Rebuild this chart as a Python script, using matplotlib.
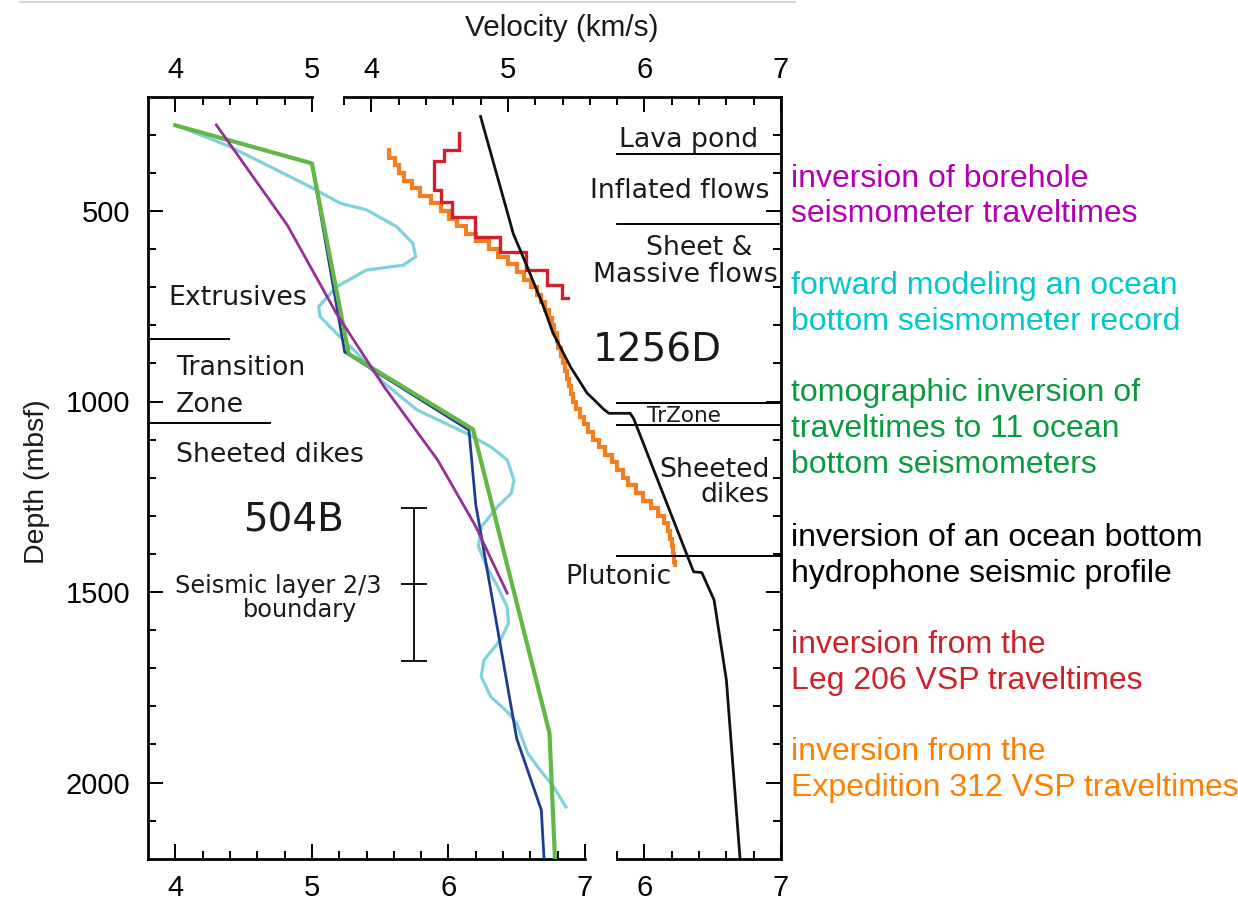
import matplotlib
matplotlib.use("Agg")
import matplotlib.pyplot as plt
from matplotlib.lines import Line2D
from matplotlib.ticker import FixedLocator

plt.rcParams['font.family'] = ['Liberation Sans', 'DejaVu Sans']

# ---------------- Site 504B models (velocity km/s, depth mbsf) ----------------
tomo_v = [4.00, 5.00, 5.27, 6.18, 6.74, 6.78]
tomo_d = [275, 375, 875, 1073, 1870, 2200]

obs_fit_v = [4.00, 5.00, 5.24, 6.15, 6.20, 6.50, 6.68, 6.70]
obs_fit_d = [275, 375, 870, 1075, 1270, 1885, 2072, 2200]

borehole_v = [4.30, 4.82, 5.18, 5.53, 5.92, 6.20, 6.43]
borehole_d = [274, 537, 769, 962, 1153, 1328, 1503]

fwd_v = [4.00, 4.40, 4.99, 5.21, 5.40, 5.62, 5.74, 5.76, 5.67, 5.40, 5.18, 5.05,
         5.06, 5.18, 5.33, 5.53, 5.77, 6.14, 6.31, 6.43, 6.48, 6.46, 6.36, 6.24,
         6.22, 6.28, 6.36, 6.43, 6.44, 6.38, 6.26, 6.24, 6.31, 6.43, 6.50, 6.58,
         6.67, 6.77, 6.86]
fwd_d = [274, 331, 437, 480, 497, 541, 585, 620, 642, 655, 699, 751,
         777, 821, 873, 952, 1022, 1085, 1119, 1153, 1206, 1241, 1276, 1329,
         1381, 1434, 1486, 1539, 1582, 1626, 1679, 1722, 1775, 1814, 1845, 1923,
         1967, 2011, 2064]

# seismic layer 2/3 boundary depth and its uncertainty
l23_v = 5.745
l23_d = 1480
l23_err = 200

# lithology boundaries at 504B: (depth, right end of line in km/s)
b504_depths = [836, 1056]
b504_ends = [4.39, 4.69]

# ---------------- Site 1256D models ----------------
ocean_v = [4.80, 4.97, 5.04, 5.14, 5.26, 5.33, 5.46, 5.58, 5.63, 5.70, 5.74, 5.895,
           5.92, 6.36, 6.42, 6.51, 6.60, 6.70]
ocean_d = [252, 470, 560, 645, 750, 820, 910, 978, 995, 1020, 1031, 1031,
           1044, 1447, 1449, 1521, 1731, 2200]

leg206_bounds = [296, 340, 370, 445, 476, 515, 567, 607, 655, 694, 729]
leg206_v = [4.64, 4.53, 4.46, 4.51, 4.59, 4.76, 4.94, 5.13, 5.285, 5.395]
leg206_tail = 5.44

exp312_bounds = [340, 360, 380, 400, 420, 440, 460, 480, 500, 520, 540, 560,
                 580, 600, 620, 640, 660, 680, 700, 720, 740, 760, 780, 800,
                 820, 840, 860, 880, 900, 920, 940, 960, 980, 1000, 1020, 1040,
                 1060, 1080, 1100, 1120, 1140, 1160, 1180, 1200, 1220, 1240, 1260,
                 1280, 1300, 1320, 1340, 1360, 1380, 1400, 1420, 1430]
exp312_v = [4.13, 4.17, 4.20, 4.24, 4.30, 4.36, 4.44, 4.51, 4.57, 4.63, 4.69, 4.77,
            4.86, 4.93, 5.00, 5.07, 5.12, 5.17, 5.21, 5.24, 5.27, 5.30, 5.32, 5.34,
            5.36, 5.37, 5.39, 5.40, 5.42, 5.43, 5.45, 5.46, 5.48, 5.50, 5.53, 5.56,
            5.59, 5.62, 5.67, 5.71, 5.76, 5.80, 5.84, 5.88, 5.94, 5.99, 6.05, 6.10,
            6.14, 6.17, 6.19, 6.20, 6.21, 6.22, 6.225]

# lithology boundaries at 1256D
b1256_depths = [350, 534, 1004, 1061, 1406]

legend_lines = [
    (["inversion of borehole", "seismometer traveltimes"], "#b400b4"),
    (["forward modeling an ocean", "bottom seismometer record"], "#00c8cc"),
    (["tomographic inversion of", "traveltimes to 11 ocean", "bottom seismometers"], "#0c9a40"),
    (["inversion of an ocean bottom", "hydrophone seismic profile"], "#000000"),
    (["inversion from the", "Leg 206 VSP traveltimes"], "#cc2229"),
    (["inversion from the", "Expedition 312 VSP traveltimes"], "#ff8000"),
]
legend_baselines = [[187, 222], [294, 330], [401, 437, 473], [546, 582], [653, 689], [760, 796]]


def stairs(bounds, vels, tail=None):
    xs, ys = [], []
    for i, v in enumerate(vels):
        xs += [v, v]
        ys += [bounds[i], bounds[i + 1]]
    if tail is not None:
        xs.append(tail)
        ys.append(bounds[-1])
    return xs, ys


W, H = 1238, 900
fig = plt.figure(figsize=(W / 100, H / 100), dpi=100)


def rect(x0, x1, y0, y1):
    return [x0 / W, 1 - y1 / H, (x1 - x0) / W, (y1 - y0) / H]


TOP, BOT = 96.7, 858.7
ax1 = fig.add_axes(rect(148, 585, TOP, BOT))
ax2 = fig.add_axes(rect(344, 781, TOP, BOT))
ax2.set_facecolor('none')

for ax in (ax1, ax2):
    ax.set_xlim(3.8, 7.0)
    ax.set_ylim(2200, 200)

SPW = 2.0
TICK = dict(direction='in', color='black', width=1.4, labelsize=21)
MAJ = dict(length=11, pad=9)
MINL = dict(length=5.5)

ymajor = [500, 1000, 1500, 2000]
yminor = [300, 400, 600, 700, 800, 900, 1100, 1200, 1300, 1400, 1600, 1700, 1800, 1900, 2100]

# ---- left panel (504B) frame ----
for s in ('top', 'right'):
    ax1.spines[s].set_visible(False)
for s in ('left', 'bottom'):
    ax1.spines[s].set_linewidth(SPW)
ax1.xaxis.set_ticks_position('bottom')
ax1.xaxis.set_major_locator(FixedLocator([4, 5, 6, 7]))
ax1.xaxis.set_minor_locator(FixedLocator([4.2, 4.4, 4.6, 4.8, 5.2, 5.4, 5.6, 5.8,
                                          6.2, 6.4, 6.6, 6.8]))
ax1.set_xticklabels(['4', '5', '6', '7'])
ax1.yaxis.set_ticks_position('left')
ax1.yaxis.set_major_locator(FixedLocator(ymajor))
ax1.yaxis.set_minor_locator(FixedLocator(yminor))
ax1.set_yticklabels([str(v) for v in ymajor])
ax1.tick_params(which='both', **TICK)
ax1.tick_params(which='major', **MAJ)
ax1.tick_params(which='minor', **MINL)
ax1.tick_params(axis='y', which='major', pad=13)
ax1.tick_params(axis='x', which='major', pad=11)

sec1 = ax1.secondary_xaxis('top')
sec1.xaxis.set_major_locator(FixedLocator([4, 5]))
sec1.xaxis.set_minor_locator(FixedLocator([4.2, 4.4, 4.6, 4.8]))
sec1.set_xticklabels(['4', '5'])
sec1.spines['top'].set_bounds(3.8, 5.0)
sec1.spines['top'].set_linewidth(SPW)
sec1.tick_params(which='both', **TICK)
sec1.tick_params(which='major', **MAJ)
sec1.tick_params(which='minor', **MINL)

# ---- right panel (1256D) frame ----
for s in ('left', 'bottom'):
    ax2.spines[s].set_visible(False)
for s in ('top', 'right'):
    ax2.spines[s].set_linewidth(SPW)
ax2.xaxis.set_ticks_position('top')
ax2.xaxis.set_label_position('top')
ax2.xaxis.set_major_locator(FixedLocator([4, 5, 6, 7]))
ax2.xaxis.set_minor_locator(FixedLocator([3.8, 4.2, 4.4, 4.6, 4.8, 5.2, 5.4, 5.6, 5.8,
                                          6.2, 6.4, 6.6, 6.8]))
ax2.set_xticklabels(['4', '5', '6', '7'])
ax2.yaxis.set_ticks_position('right')
ax2.yaxis.set_major_locator(FixedLocator(ymajor))
ax2.yaxis.set_minor_locator(FixedLocator(yminor))
ax2.tick_params(which='both', **TICK)
ax2.tick_params(which='major', **MAJ)
ax2.tick_params(which='minor', **MINL)
ax2.tick_params(axis='y', labelright=False, labelleft=False)

sec2 = ax2.secondary_xaxis('bottom')
sec2.xaxis.set_major_locator(FixedLocator([6, 7]))
sec2.xaxis.set_minor_locator(FixedLocator([5.8, 6.2, 6.4, 6.6, 6.8]))
sec2.set_xticklabels(['6', '7'])
sec2.spines['bottom'].set_bounds(5.8, 7.0)
sec2.spines['bottom'].set_linewidth(SPW)
sec2.tick_params(which='both', **TICK)
sec2.tick_params(which='major', length=11, pad=11)
sec2.tick_params(which='minor', **MINL)

# ---- 504B curves ----
ax1.plot(fwd_v, fwd_d, color='#80d2da', lw=2.3, zorder=2)
ax1.plot(obs_fit_v, obs_fit_d, color='#1e3c92', lw=2.0, zorder=3)
ax1.plot(tomo_v, tomo_d, color='#62b846', lw=3.0, zorder=4)
ax1.plot(borehole_v, borehole_d, color='#962f96', lw=2.0, zorder=5)

for d, xe in zip(b504_depths, b504_ends):
    ax1.plot([3.8, xe], [d, d], color='black', lw=1.4)

ax1.errorbar([l23_v], [l23_d], yerr=[l23_err], color='black', lw=1.3,
             capsize=9.5, capthick=1.3, marker='_', markersize=19, mew=1.3)

LBL = dict(family=['DejaVu Sans'], fontsize=19.3, color='#1a1a1a', va='baseline')
ax1.text(3.949, 747, 'Extrusives', ha='left', **LBL)
ax1.text(4.005, 930, 'Transition', ha='left', **LBL)
ax1.text(4.005, 1027, 'Zone', ha='left', **LBL)
ax1.text(4.005, 1158, 'Sheeted dikes', ha='left', **LBL)
ax1.text(4.498, 1342, '504B', ha='left', family=['DejaVu Sans'], fontsize=28,
         color='#1a1a1a', va='baseline')
ax1.text(3.998, 1503, 'Seismic layer 2/3', ha='left', family=['DejaVu Sans'],
         fontsize=17.3, color='#1a1a1a', va='baseline')
ax1.text(4.498, 1565, 'boundary', ha='left', family=['DejaVu Sans'],
         fontsize=17.3, color='#1a1a1a', va='baseline')

# ---- 1256D curves ----
xs, ys = stairs(exp312_bounds, exp312_v)
ax2.plot(xs, ys, color='#f47f20', lw=3.0, zorder=2, solid_joinstyle='miter')
xs, ys = stairs(leg206_bounds, leg206_v, leg206_tail)
ax2.plot(xs, ys, color='#d4202c', lw=2.4, zorder=3, solid_joinstyle='miter')
ax2.plot(ocean_v, ocean_d, color='#111111', lw=2.0, zorder=4)

for d in b1256_depths:
    ax2.plot([5.8, 7.0], [d, d], color='black', lw=1.4)

ax2.text(6.326, 331, 'Lava pond', ha='center', **LBL)
ax2.text(6.26, 467, 'Inflated flows', ha='center', **LBL)
ax2.text(6.398, 615, 'Sheet &', ha='center', **LBL)
ax2.text(6.297, 686, 'Massive flows', ha='center', **LBL)
ax2.text(6.096, 894, '1256D', ha='center', family=['DejaVu Sans'], fontsize=28,
         color='#1a1a1a', va='baseline')
ax2.text(6.29, 1054, 'TrZone', ha='center', family=['DejaVu Sans'], fontsize=15.5,
         color='#1a1a1a', va='baseline')
ax2.text(6.919, 1197, 'Sheeted', ha='right', **LBL)
ax2.text(6.919, 1263, 'dikes', ha='right', **LBL)
ax2.text(5.418, 1478, 'Plutonic', ha='left', **LBL)

# ---- axis titles ----
fig.text(562 / W, 1 - 35.5 / H, 'Velocity (km/s)', ha='center', va='baseline',
         fontsize=21.4, color='#1a1a1a')
fig.text(37 / W, 1 - 482 / H, 'Depth (mbsf)', ha='center', va='center',
         rotation=90, fontsize=20.5, color='#1a1a1a')

# ---- colour key on the right ----
for (lines, col), bases in zip(legend_lines, legend_baselines):
    for txt, b in zip(lines, bases):
        fig.text(790.7 / W, 1 - b / H, txt, ha='left', va='baseline',
                 fontsize=23, color=col)

fig.add_artist(Line2D([20 / W, 795 / W], [1 - 1.5 / H] * 2, color='#cfcfcf', lw=1.2))

fig.savefig('out.png', dpi=100)
